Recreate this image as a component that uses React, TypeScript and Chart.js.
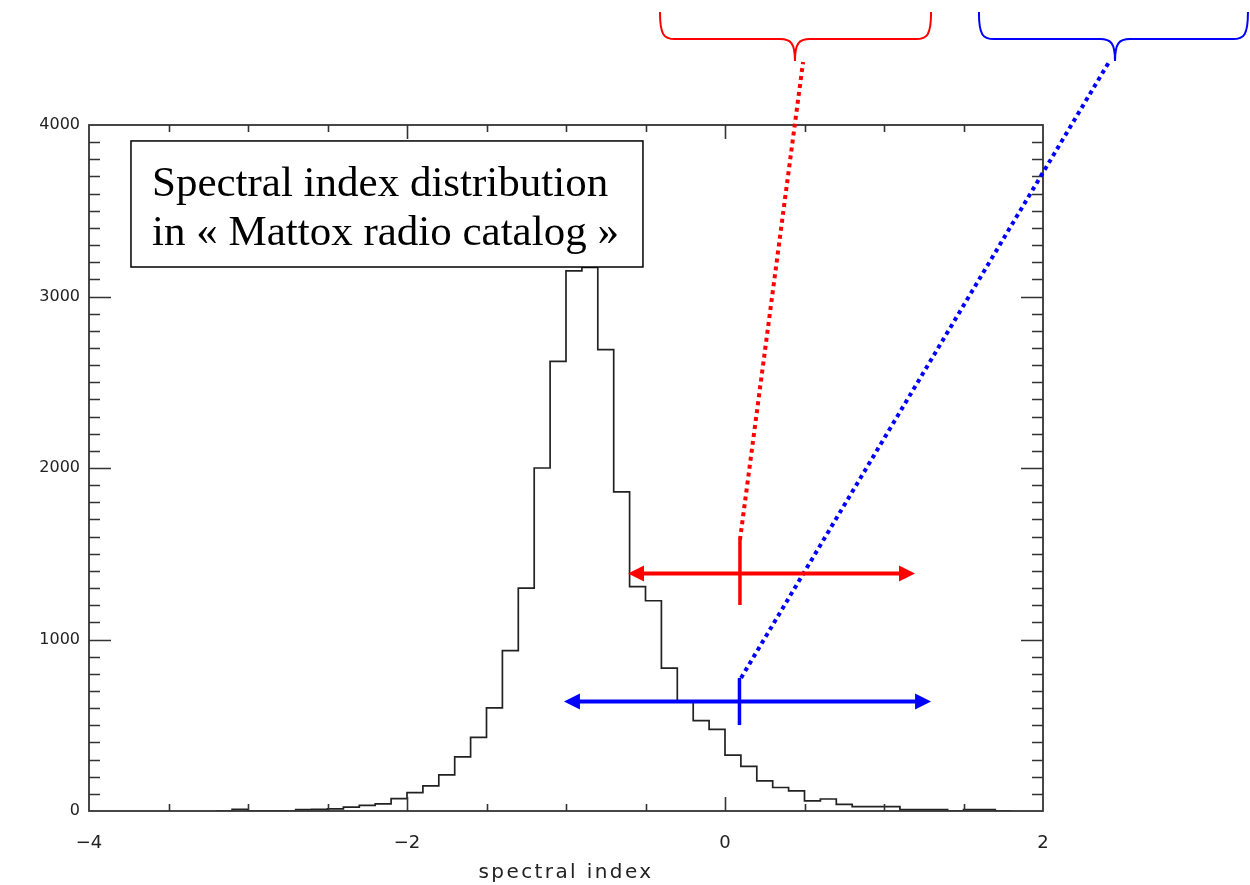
import React, { useEffect, useRef } from 'react';
import { Chart, registerables } from 'chart.js';

Chart.register(...registerables);

// Histogram bins (left edges, width 0.1) and counts
const binLeft = [
  -3.2, -3.1, -3.0, -2.9, -2.8, -2.7, -2.6, -2.5, -2.4, -2.3,
  -2.2, -2.1, -2.0, -1.9, -1.8, -1.7, -1.6, -1.5, -1.4, -1.3,
  -1.2, -1.1, -1.0, -0.9, -0.8, -0.7, -0.6, -0.5, -0.4, -0.3,
  -0.2, -0.1, 0.0, 0.1, 0.2, 0.3, 0.4, 0.5, 0.6, 0.7,
  0.8, 0.9, 1.0, 1.1, 1.2, 1.3, 1.4, 1.5, 1.6, 1.7,
];
const counts = [
  0, 10, 0, 0, 0, 8, 10, 12, 23, 33,
  41, 72, 107, 146, 211, 316, 429, 601, 935, 1300,
  2000, 2622, 3150, 3170, 2690, 1861, 1308, 1226, 833, 640,
  527, 476, 326, 260, 176, 137, 117, 59, 70, 39,
  25, 25, 25, 8, 8, 8, 0, 8, 8, 0,
];
const lastEdge = 1.8;

const xRange = [-4, 2];
const yRange = [0, 4000];
const xLabelStep = 2;
const xMinorStep = 0.5;
const yLabelStep = 1000;
const yMinorStep = 100;

const xTitle = 'spectral index';
const boxLines = ['Spectral index distribution', 'in « Mattox radio catalog »'];

// Annotations in data units
const boxCorners = { x0: -3.736, x1: -0.516, y0: 3907, y1: 3172 };
const redArrow = { y: 1385, from: -0.61, to: 1.195, tickX: 0.094, tickLo: 1201, tickHi: 1580 };
const blueArrow = { y: 638, from: -1.013, to: 1.296, tickX: 0.091, tickLo: 501, tickHi: 776 };
const redLink = { x0: 0.094, y0: 1580, x1: 0.491, y1: 4367 };
const blueLink = { x0: 0.101, y0: 776, x1: 2.415, y1: 4367 };
const redBrace = { xL: -0.409, xR: 1.296, xTip: 0.44, yTop: 4659, yMid: 4501, yTip: 4373 };
const blueBrace = { xL: 1.597, xR: 3.289, xTip: 2.453, yTop: 4659, yMid: 4501, yTip: 4373 };

const RED = '#ff0000';
const BLUE = '#0000ff';
const AXIS = '#333333';

function fmt(v: number) {
  if (v < 0) return '\u2212' + Math.abs(v);
  return String(v);
}

export default function App() {
  const ref = useRef<HTMLCanvasElement | null>(null);

  useEffect(() => {
    const canvas = ref.current;
    if (!canvas) return;

    const points = binLeft.map((x, i) => ({ x, y: counts[i] }));
    points.push({ x: lastEdge, y: 0 });

    const decor = {
      id: 'decor',
      afterDraw(chart: any) {
        const { ctx, chartArea: ca, scales } = chart;
        const xs = scales.x;
        const ys = scales.y;
        const X = (v: number) => xs.getPixelForValue(v);
        const Y = (v: number) => ys.getPixelForValue(v);
        ctx.save();

        // frame
        ctx.strokeStyle = AXIS;
        ctx.lineWidth = 1.8;
        ctx.strokeRect(ca.left, ca.top, ca.right - ca.left, ca.bottom - ca.top);

        // x ticks (inward, bottom and top)
        ctx.lineWidth = 1.6;
        const nx = Math.round((xRange[1] - xRange[0]) / xMinorStep);
        for (let i = 1; i < nx; i++) {
          const v = xRange[0] + i * xMinorStep;
          const major = Math.abs(v / xLabelStep - Math.round(v / xLabelStep)) < 1e-6;
          const len = major ? 14 : 7;
          const px = Math.round(X(v)) + 0.5;
          ctx.beginPath();
          ctx.moveTo(px, ca.bottom);
          ctx.lineTo(px, ca.bottom - len);
          ctx.moveTo(px, ca.top);
          ctx.lineTo(px, ca.top + len);
          ctx.stroke();
        }
        // y ticks (inward, left and right)
        const ny = Math.round((yRange[1] - yRange[0]) / yMinorStep);
        for (let i = 1; i < ny; i++) {
          const v = yRange[0] + i * yMinorStep;
          const major = v % yLabelStep === 0;
          const len = major ? 22 : 11;
          const py = Math.round(Y(v)) + 0.5;
          ctx.beginPath();
          ctx.moveTo(ca.left, py);
          ctx.lineTo(ca.left + len, py);
          ctx.moveTo(ca.right, py);
          ctx.lineTo(ca.right - len, py);
          ctx.stroke();
        }

        // x axis title
        ctx.fillStyle = '#222';
        ctx.font = '20px "DejaVu Sans"';
        (ctx as any).letterSpacing = '2.4px';
        ctx.textAlign = 'center';
        ctx.textBaseline = 'middle';
        ctx.fillText(xTitle, (ca.left + ca.right) / 2, 873);
        (ctx as any).letterSpacing = '0px';

        // text box
        const bx0 = X(boxCorners.x0), bx1 = X(boxCorners.x1);
        const by0 = Y(boxCorners.y0), by1 = Y(boxCorners.y1);
        ctx.fillStyle = '#fff';
        ctx.fillRect(bx0, by0, bx1 - bx0, by1 - by0);
        ctx.strokeStyle = '#000';
        ctx.lineWidth = 1.5;
        ctx.strokeRect(bx0, by0, bx1 - bx0, by1 - by0);
        ctx.fillStyle = '#000';
        ctx.font = '43px "Liberation Serif"';
        ctx.textAlign = 'left';
        ctx.textBaseline = 'alphabetic';
        ctx.fillText(boxLines[0], bx0 + 21, by0 + 55);
        ctx.fillText(boxLines[1], bx0 + 21, by0 + 104);

        // dotted links
        const dotted = (l: any, color: string) => {
          ctx.save();
          ctx.strokeStyle = color;
          ctx.lineWidth = 4;
          ctx.setLineDash([4, 4]);
          ctx.lineCap = 'butt';
          ctx.beginPath();
          ctx.moveTo(X(l.x0), Y(l.y0));
          ctx.lineTo(X(l.x1), Y(l.y1));
          ctx.stroke();
          ctx.restore();
        };
        dotted(redLink, RED);
        dotted(blueLink, BLUE);

        // arrows
        const arrow = (a: any, color: string) => {
          const y = Y(a.y);
          const x0 = X(a.from), x1 = X(a.to);
          const hl = 16, hw = 8;
          ctx.strokeStyle = color;
          ctx.fillStyle = color;
          ctx.lineWidth = 4;
          ctx.setLineDash([]);
          ctx.beginPath();
          ctx.moveTo(x0 + hl - 2, y);
          ctx.lineTo(x1 - hl + 2, y);
          ctx.stroke();
          ctx.beginPath();
          ctx.moveTo(x0, y);
          ctx.lineTo(x0 + hl, y - hw);
          ctx.lineTo(x0 + hl, y + hw);
          ctx.closePath();
          ctx.fill();
          ctx.beginPath();
          ctx.moveTo(x1, y);
          ctx.lineTo(x1 - hl, y - hw);
          ctx.lineTo(x1 - hl, y + hw);
          ctx.closePath();
          ctx.fill();
          ctx.lineWidth = 3.5;
          ctx.beginPath();
          ctx.moveTo(X(a.tickX), Y(a.tickLo));
          ctx.lineTo(X(a.tickX), Y(a.tickHi));
          ctx.stroke();
        };
        arrow(redArrow, RED);
        arrow(blueArrow, BLUE);

        // braces
        const brace = (b: any, color: string) => {
          const xL = X(b.xL), xR = X(b.xR), xt = X(b.xTip);
          const yT = Y(b.yTop), yM = Y(b.yMid), yP = Y(b.yTip);
          const r = 15;
          ctx.strokeStyle = color;
          ctx.lineWidth = 2;
          ctx.beginPath();
          ctx.moveTo(xL, yT);
          ctx.bezierCurveTo(xL, yM - 4, xL + 4, yM, xL + r, yM);
          ctx.lineTo(xt - r, yM);
          ctx.bezierCurveTo(xt - 4, yM, xt, yM + 4, xt, yP);
          ctx.moveTo(xR, yT);
          ctx.bezierCurveTo(xR, yM - 4, xR - 4, yM, xR - r, yM);
          ctx.lineTo(xt + r, yM);
          ctx.bezierCurveTo(xt + 4, yM, xt, yM + 4, xt, yP);
          ctx.stroke();
        };
        brace(redBrace, RED);
        brace(blueBrace, BLUE);

        ctx.restore();
      },
    };

    const chart = new Chart(canvas, {
      type: 'line',
      data: {
        datasets: [
          {
            data: points,
            stepped: 'before',
            borderColor: '#222',
            borderWidth: 1.7,
            pointRadius: 0,
            fill: false,
          } as any,
        ],
      },
      options: {
        animation: false,
        responsive: false,
        maintainAspectRatio: false,
        layout: { padding: { top: 125, right: 207, left: 0, bottom: 0 } },
        plugins: { legend: { display: false }, tooltip: { enabled: false } },
        scales: {
          x: {
            type: 'linear',
            min: xRange[0],
            max: xRange[1],
            grid: { display: false, drawTicks: false },
            border: { display: false },
            ticks: {
              stepSize: xLabelStep,
              color: '#222',
              padding: 22,
              font: { family: 'DejaVu Sans', size: 18 },
              maxRotation: 0,
              callback: (v: any) => fmt(Number(v)),
            },
            afterFit: (s: any) => { s.height = 74; },
          },
          y: {
            type: 'linear',
            min: yRange[0],
            max: yRange[1],
            grid: { display: false, drawTicks: false },
            border: { display: false },
            ticks: {
              stepSize: yLabelStep,
              color: '#222',
              padding: 9,
              font: { family: 'DejaVu Sans', size: 16 },
              callback: (v: any) => String(v),
            },
            afterFit: (s: any) => { s.width = 89; },
          },
        },
      },
      plugins: [decor],
    });

    return () => chart.destroy();
  }, []);

  return (
    <div style={{ position: 'fixed', left: 0, top: 0, width: 1250, height: 885, background: '#fff' }}>
      <canvas ref={ref} width={1250} height={885} style={{ width: 1250, height: 885, display: 'block' }} />
    </div>
  );
}
